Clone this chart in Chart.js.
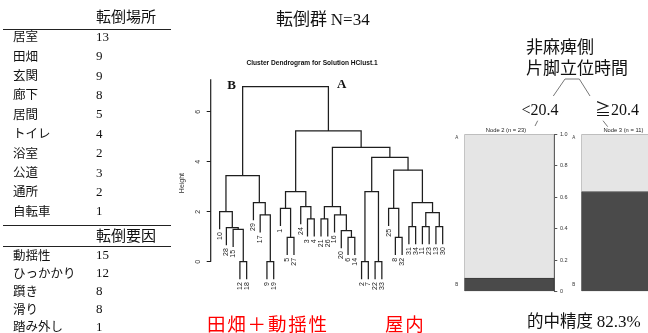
<!DOCTYPE html>
<html lang="ja">
<head>
<meta charset="utf-8">
<script src="https://cdn.jsdelivr.net/npm/chart.js@4/dist/chart.umd.min.js"></script>
<style>
  html, body { margin: 0; padding: 0; }
  body { width: 648px; height: 333px; overflow: hidden; background: #fff; position: relative;
         font-family: "Noto Sans CJK JP", sans-serif; color: #111; }
  .t { position: absolute; white-space: nowrap; }
  .rule { position: absolute; height: 0; border-top: 1.2px solid #222; }
  canvas { position: absolute; }
  .serif { font-family: "Liberation Serif", serif; }
</style>
</head>
<body>
<canvas id="dendro" width="300" height="270" style="left:160px;top:40px;width:300px;height:270px"></canvas>
<canvas id="node2" width="135" height="180" style="left:445px;top:125px;width:135px;height:180px"></canvas>
<canvas id="node3" width="135" height="180" style="left:562px;top:125px;width:135px;height:180px"></canvas>
<svg width="648" height="333" style="position:absolute;left:0;top:0" fill="none" stroke="#777" stroke-width="1">
  <polyline points="553.3,96 565,79 579.3,79 590,96"/>
  <line x1="537.7" y1="120.7" x2="535" y2="126"/>
  <line x1="603" y1="120.7" x2="607.7" y2="126.7"/>
</svg>
<script>
// ---- fall locations and fall causes (counts) ----
const placeNames  = ["居室", "田畑", "玄関", "廊下", "居間", "トイレ", "浴室", "公道", "通所", "自転車"];
const placeCounts = [13, 9, 9, 8, 5, 4, 2, 3, 2, 1];
const causeNames  = ["動揺性", "ひっかかり", "躓き", "滑り", "踏み外し"];
const causeCounts = [15, 12, 8, 8, 1];

// ---- hierarchical clustering of the 34 fallers ----
const leafLabels = [10, 28, 15, 12, 18, 29, 17, 9, 19, 1, 5, 27, 24, 3, 4, 21, 26, 16,
                    20, 6, 14, 2, 7, 22, 33, 25, 8, 32, 31, 34, 11, 23, 13, 30];
// merge steps: [a, b, height]; negative = observation, positive = earlier step (1-based)
const merges = [
  [-12, -18, 0.00], [-9, -19, 0.00], [-2, -7, 0.00], [-22, -33, 0.00],
  [-5, -27, 0.97], [-6, -14, 0.97], [-8, -32, 0.97], [-20, 6, 1.24],
  [-15, 1, 1.29], [-28, 9, 1.36], [-31, -34, 1.40], [-11, -23, 1.40],
  [-13, -30, 1.40], [-3, -4, 1.71], [-21, -26, 1.71], [-17, 2, 1.87],
  [-16, 8, 1.87], [12, 13, 1.96], [-10, 10, 2.00], [-1, 5, 2.13],
  [-25, 7, 2.13], [-24, 14, 2.20], [15, 17, 2.20], [-29, 16, 2.36],
  [11, 18, 2.36], [20, 22, 2.80], [3, 4, 2.80], [19, 24, 3.44],
  [21, 25, 3.66], [27, 29, 4.17], [23, 30, 4.57], [26, 31, 5.23], [28, 32, 7.00]
];
const heightTicks = [0, 2, 4, 6];

// ---- classification tree terminal nodes (class counts) ----
const nodeNames = ["Node 2", "Node 3"];
const nodeCountA = [21, 4];
const nodeCountB = [2, 7];
const classLevels = ["B", "A"];
const propTicks = [0, 0.2, 0.4, 0.6, 0.8, 1];

const SANS = "'Liberation Sans', Arial, sans-serif";
const CJK = "'Noto Sans CJK JP', sans-serif";
const SERIF = "'Liberation Serif', 'Times New Roman', serif";

// ---------- text helpers ----------
function txt(html, x, yc, size, opts = {}) {
  const d = document.createElement('div');
  d.className = 't';
  const lh = Math.round(size * 1.3);
  d.style.left = x + 'px';
  d.style.top = (yc - lh / 2) + 'px';
  d.style.lineHeight = lh + 'px';
  d.style.fontSize = size + 'px';
  if (opts.family) d.style.fontFamily = opts.family;
  if (opts.color) d.style.color = opts.color;
  if (opts.weight) d.style.fontWeight = opts.weight;
  if (opts.spacing) d.style.letterSpacing = opts.spacing + 'px';
  if (opts.center) d.style.transform = 'translateX(-50%)';
  d.innerHTML = html;
  document.body.appendChild(d);
  return d;
}
function rule(x1, x2, y) {
  const d = document.createElement('div');
  d.className = 'rule';
  d.style.left = x1 + 'px';
  d.style.width = (x2 - x1) + 'px';
  d.style.top = y + 'px';
  document.body.appendChild(d);
}

// ---------- left tables ----------
txt("転倒場所", 96, 15.5, 15);
rule(3, 171, 29);
placeNames.forEach((name, i) => {
  const y = 36.2 + i * 19.4;
  txt(name, 13, y, 12.5);
  txt(String(placeCounts[i]), 96, y, 13, { family: SERIF });
});
rule(3, 171, 224.5);
txt("転倒要因", 96, 234.5, 15);
rule(3, 171, 245.5);
causeNames.forEach((name, i) => {
  const y = 254.8 + i * 17.9;
  txt(name, 13, y, 12.5);
  txt(String(causeCounts[i]), 96, y, 13, { family: SERIF });
});

// ---------- headings and annotations ----------
txt('転倒群 <span class="serif">N=34</span>', 276, 18, 17);
txt("Cluster Dendrogram for Solution HClust.1", 312, 62, 6.6, { family: SANS, weight: 'bold', center: true });
txt("B", 231.7, 84, 13, { family: SERIF, weight: 'bold', center: true });
txt("A", 341.7, 83.5, 13, { family: SERIF, weight: 'bold', center: true });
txt("田畑＋動揺性", 207, 322.5, 18.5, { color: '#ff0000', spacing: 1.8 });
txt("屋内", 385, 322.5, 18.5, { color: '#ff0000', spacing: 1.8 });

txt("非麻痺側", 526, 45.5, 17);
txt("片脚立位時間", 526, 66.5, 17);
txt('<span class="serif">&lt;20.4</span>', 521.5, 108, 16);
txt('≧<span class="serif">20.4</span>', 595, 108, 16);
nodeNames.forEach((nm, i) => {
  const n = nodeCountA[i] + nodeCountB[i];
  txt(nm + " (n = " + n + ")", i === 0 ? 506 : 623.4, 130, 5.8, { family: SANS, center: true, color: '#222' });
});
const totalCorrect = nodeCountA[0] + nodeCountB[1];
const totalN = nodeCountA.reduce((s, v) => s + v, 0) + nodeCountB.reduce((s, v) => s + v, 0);
txt('的中精度 <span class="serif" style="font-size:17px">' + (Math.floor(totalCorrect / totalN * 1000) / 10).toFixed(1) + '%</span>',
    527, 320.5, 16.5);

// ---------- dendrogram ----------
const hang = 0.1 * Math.max(...merges.map(m => m[2]));
const leafPos = {};
leafLabels.forEach((lab, i) => { leafPos[lab] = i + 1; });
const leafEnd = {};
const nodeX = [], nodeH = [];
const linkSets = [];
merges.forEach(([a, b, h], k) => {
  const ends = [a, b].map(c => {
    if (c < 0) {
      leafEnd[-c] = h - hang;
      return { x: leafPos[-c], y: h - hang };
    }
    return { x: nodeX[c - 1], y: nodeH[c - 1] };
  });
  nodeX[k] = (ends[0].x + ends[1].x) / 2;
  nodeH[k] = h;
  linkSets.push({
    data: [ends[0], { x: ends[0].x, y: h }, { x: ends[1].x, y: h }, ends[1]],
    showLine: true, borderColor: '#1e1e1e', borderWidth: 1.25,
    pointRadius: 0, tension: 0, clip: false
  });
});

const leafLabelPlugin = {
  id: 'leafLabels',
  afterDatasetsDraw(chart) {
    const { ctx, scales: { x, y } } = chart;
    ctx.save();
    ctx.fillStyle = '#222';
    ctx.font = '7px ' + SANS;
    ctx.textAlign = 'right';
    ctx.textBaseline = 'middle';
    leafLabels.forEach(lab => {
      ctx.save();
      ctx.translate(x.getPixelForValue(leafPos[lab]), y.getPixelForValue(leafEnd[lab]) + 3);
      ctx.rotate(-Math.PI / 2);
      ctx.fillText(String(lab), 0, 0);
      ctx.restore();
    });
    // axis line spans from the lowest tick to the top of the plot
    ctx.strokeStyle = '#1e1e1e';
    ctx.lineWidth = 1.2;
    ctx.beginPath();
    const ax = chart.chartArea.left;
    ctx.moveTo(ax, y.getPixelForValue(heightTicks[0]));
    ctx.lineTo(ax, y.getPixelForValue(y.max));
    ctx.stroke();
    ctx.restore();
  }
};

new Chart(document.getElementById('dendro'), {
  type: 'scatter',
  data: { datasets: linkSets },
  plugins: [leafLabelPlugin],
  options: {
    responsive: false,
    animation: false,
    events: [],
    layout: { padding: { left: 0, top: 39.2, right: 8.4, bottom: 23.1 } },
    plugins: { legend: { display: false }, tooltip: { enabled: false } },
    scales: {
      x: { type: 'linear', min: -0.32, max: 35.32, display: false },
      y: {
        type: 'linear', min: -1.008, max: 7.3, position: 'left',
        afterBuildTicks: s => { s.ticks = heightTicks.map(v => ({ value: v })); },
        afterFit: s => { s.width = 50.7; },
        border: { display: false },
        grid: { drawOnChartArea: false, drawTicks: true, tickLength: 4, color: '#1e1e1e', lineWidth: 1 },
        ticks: { minRotation: 90, maxRotation: 90, crossAlign: 'center', padding: 6.8,
                 color: '#333', font: { size: 7, family: SANS } },
        title: { display: true, text: 'Height', color: '#333', font: { size: 7, family: SANS },
                 padding: { top: 17.5, bottom: 0 } }
      }
    }
  }
});

// ---------- terminal node bar plots ----------
function nodePlot(id, i) {
  const n = nodeCountA[i] + nodeCountB[i];
  new Chart(document.getElementById(id), {
    type: 'bar',
    data: {
      labels: [nodeNames[i]],
      datasets: [
        { label: classLevels[0], data: [nodeCountB[i] / n], backgroundColor: '#4a4a4a',
          borderColor: '#3a3a3a', borderWidth: 1 },
        { label: classLevels[1], data: [nodeCountA[i] / n], backgroundColor: '#e5e5e5',
          borderColor: '#a8a8a8', borderWidth: 1 }
      ]
    },
    options: {
      responsive: false,
      animation: false,
      events: [],
      layout: { padding: { left: 0, right: 0, top: 9.3, bottom: 13.3 } },
      plugins: { legend: { display: false }, tooltip: { enabled: false } },
      datasets: { bar: { barPercentage: 1, categoryPercentage: 1 } },
      scales: {
        x: { stacked: true, display: false },
        y: {
          stacked: true, min: 0, max: 1, position: 'right',
          afterBuildTicks: s => { s.ticks = propTicks.map(v => ({ value: v })); },
          afterFit: s => { s.width = 25.7; },
          border: { color: '#555', width: 1 },
          grid: { drawOnChartArea: false, tickLength: 3, color: '#555' },
          ticks: { padding: 2.7, color: '#333', font: { size: 5.5, family: SANS } }
        },
        yl: {
          min: 0, max: 1, position: 'left',
          afterBuildTicks: s => { s.ticks = [{ value: 0.043 }, { value: 0.981 }]; },
          afterFit: s => { s.width = 19.3; },
          border: { display: false },
          grid: { display: false, drawTicks: false },
          ticks: { callback: (v, k) => classLevels[k], padding: 6, color: '#333',
                   font: { size: 4.5, family: SANS } }
        }
      }
    }
  });
}
nodePlot('node2', 0);
nodePlot('node3', 1);
</script>
</body>
</html>
